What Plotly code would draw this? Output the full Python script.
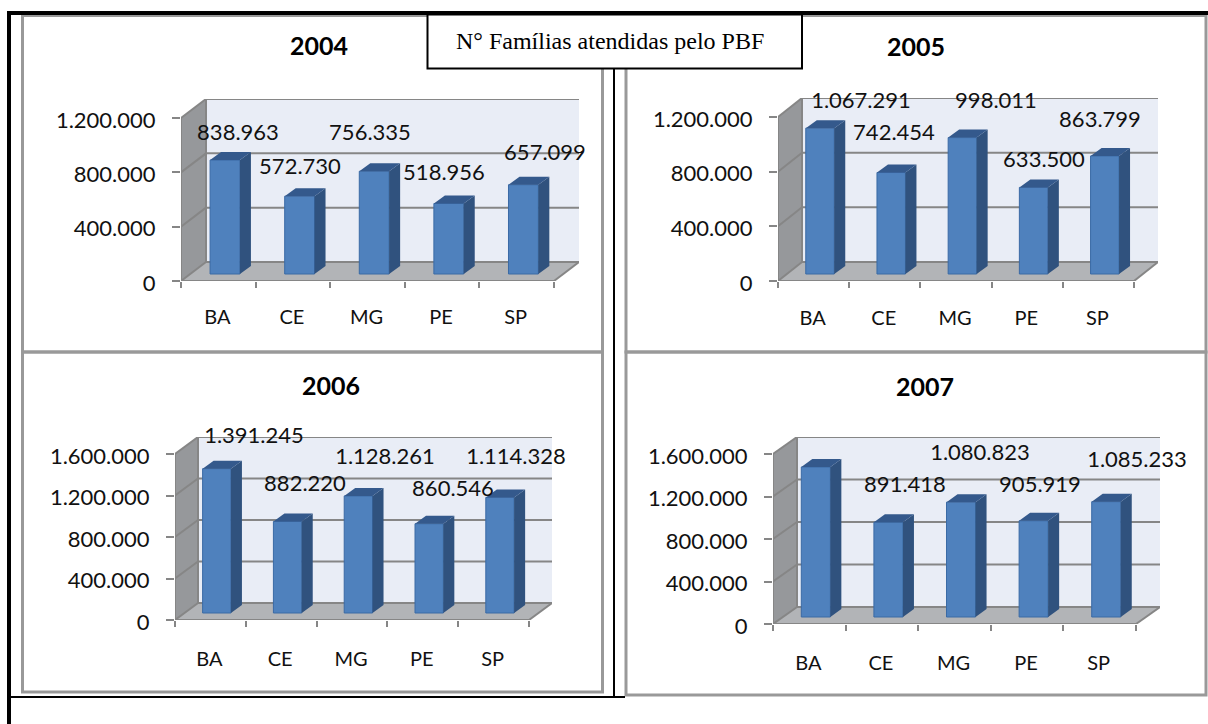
import plotly.graph_objects as go

W, H = 1208, 724

states = ["BA", "CE", "MG", "PE", "SP"]
years = ["2004", "2005", "2006", "2007"]
values_2004 = [838963, 572730, 756335, 518956, 657099]
values_2005 = [1067291, 742454, 998011, 633500, 863799]
values_2006 = [1391245, 882220, 1128261, 860546, 1114328]
values_2007 = [1411662, 891418, 1080823, 905919, 1085233]
ticks_a = [0, 400000, 800000, 1200000]
ticks_b = [0, 400000, 800000, 1200000, 1600000]
box_text = "N° Famílias atendidas pelo PBF"

# layout of each panel, in pixels: front axis x0,x1, y of zero, y of top tick, depth
panels = [
    dict(year=years[0], vals=values_2004, ticks=ticks_a, x0=181, x1=554, y0=281, yt=118, dx=25, dy=19,
         title=(319, 45), lab=[(238, 134), (300, 168), (370, 134), (444, 174), (545, 154)], caty=317),
    dict(year=years[1], vals=values_2005, ticks=ticks_a, x0=778, x1=1134, y0=281, yt=117, dx=24, dy=19,
         title=(916, 46), lab=[(861, 102), (894, 134), (996, 102), (1044, 161), (1100, 121)], caty=318),
    dict(year=years[2], vals=values_2006, ticks=ticks_b, x0=175, x1=529, y0=620, yt=454, dx=23, dy=17,
         title=(331, 385), lab=[(254, 437), (305, 485), (385, 458), (453, 490), (516, 458)], caty=659),
    dict(year=years[3], vals=values_2007, ticks=ticks_b, x0=773, x1=1136, y0=624, yt=454, dx=24, dy=17,
         title=(925, 386), lab=[(864, 434), (905, 486), (980, 454), (1040, 486), (1137, 461)], caty=663),
]

WALL_SIDE = "#96989b"
WALL_BACK = "#e9edf6"
FLOOR = "#b2b4b7"
GRID = "#868686"
BAR = "#4f81bd"
BAR_LINE = "#3a6aa5"
BAR_SIDE = "#30527e"
BAR_TOP = "#34598c"
TEXT = "#111111"
FONT = "Lato"

fig = go.Figure()
shapes, annotations = [], []


def fmt(v):
    return f"{v:,}".replace(",", ".")


def px(x):
    return x / W


def py(y):
    return 1 - y / H


def poly(points, xr, yr, fill):
    path = "M" + " L".join(f"{a},{b}" for a, b in points) + " Z"
    return dict(type="path", path=path, xref=xr, yref=yr, fillcolor=fill, line=dict(width=0), layer="below")


def seg(a, b, xr, yr, color=GRID, width=2, layer="below"):
    return dict(type="line", x0=a[0], y0=a[1], x1=b[0], y1=b[1], xref=xr, yref=yr,
                line=dict(color=color, width=width), layer=layer)


for n, p in enumerate(panels, start=1):
    xr, yr = f"x{n}", f"y{n}"
    top_tick = p["ticks"][-1]
    ux = (p["x1"] - p["x0"]) / len(states)          # px per category
    uy = (p["y0"] - p["yt"]) / top_tick             # px per value
    dxu = p["dx"] / ux
    dyu = p["dy"] / uy
    nc = len(states)

    fig.layout[f"xaxis{n}"] = dict(
        domain=[px(p["x0"]), px(p["x1"] + p["dx"])], range=[0, nc + dxu], anchor=yr, automargin=False,
        showgrid=False, zeroline=False, showline=False,
        tickmode="array", tickvals=[i + 0.5 for i in range(nc)], ticktext=states, ticks="",
        ticklabelstandoff=int(p["caty"] - p["y0"] - 14), ticklabelshift=-1,
        tickfont=dict(family=FONT, size=20, color=TEXT),
        minor=dict(tickmode="array", tickvals=list(range(nc + 1)), ticks="outside", ticklen=6,
                   tickcolor=GRID, tickwidth=2, showgrid=False),
    )
    fig.layout[f"yaxis{n}"] = dict(
        domain=[py(p["y0"]), py(p["yt"] - p["dy"])], range=[0, top_tick + dyu], anchor=xr, automargin=False,
        showgrid=False, zeroline=False, showline=False,
        tickmode="array", tickvals=p["ticks"], ticktext=[fmt(t) for t in p["ticks"]],
        ticks="outside", ticklen=8, tickcolor=GRID, tickwidth=2, ticklabelstandoff=12, ticklabelshift=2,
        tickfont=dict(family=FONT, size=22, color=TEXT),
    )

    # walls and floor follow the value scale
    shapes.append(poly([(dxu, dyu), (nc + dxu, dyu), (nc + dxu, top_tick + dyu), (dxu, top_tick + dyu)], xr, yr, WALL_BACK))
    shapes.append(poly([(0, 0), (dxu, dyu), (dxu, top_tick + dyu), (0, top_tick)], xr, yr, WALL_SIDE))
    shapes.append(poly([(0, 0), (nc, 0), (nc + dxu, dyu), (dxu, dyu)], xr, yr, FLOOR))
    for t in p["ticks"]:
        if t > 0:
            shapes.append(seg((dxu, t + dyu), (nc + dxu, t + dyu), xr, yr))
        shapes.append(seg((0, t), (dxu, t + dyu), xr, yr))
    shapes.append(seg((dxu, dyu), (nc + dxu, dyu), xr, yr))
    shapes.append(seg((nc, 0), (nc + dxu, dyu), xr, yr))
    shapes.append(seg((dxu, dyu), (dxu, top_tick + dyu), xr, yr))
    shapes.append(seg((0, 0), (nc, 0), xr, yr))
    shapes.append(seg((0, 0), (0, top_tick), xr, yr))

    # bars
    left, width = 0.39, 0.40
    bx, by = 11 / ux, 8 / uy              # depth of a bar
    base = 7 / uy                         # lift of the front face above the floor edge
    xs = [i + left + width / 2 for i in range(nc)]
    fig.add_trace(go.Bar(x=xs, y=p["vals"], base=[base] * nc, width=width,
                         marker=dict(color=BAR, line=dict(color=BAR_LINE, width=1)),
                         xaxis=xr, yaxis=yr, showlegend=False, hoverinfo="skip"))
    sx, sy, tx, ty = [], [], [], []
    for i, v in enumerate(p["vals"]):
        l, r = i + left, i + left + width
        b, t = base, base + v
        sx += [r, r + bx, r + bx, r, r, None]
        sy += [b, b + by, t + by, t, b, None]
        tx += [l, r, r + bx, l + bx, l, None]
        ty += [t, t, t + by, t + by, t, None]
    for ax, ay, c in ((sx, sy, BAR_SIDE), (tx, ty, BAR_TOP)):
        fig.add_trace(go.Scatter(x=ax, y=ay, mode="lines", fill="toself", fillcolor=c, line=dict(width=0, color=c),
                                 xaxis=xr, yaxis=yr, showlegend=False, hoverinfo="skip"))

    # data labels
    fig.add_trace(go.Scatter(
        x=[(q[0] - p["x0"]) / ux for q in p["lab"]],
        y=[(p["y0"] - q[1]) / uy for q in p["lab"]],
        text=[fmt(v) for v in p["vals"]], mode="text", textposition="middle center",
        textfont=dict(family=FONT, size=22, color=TEXT), cliponaxis=False,
        xaxis=xr, yaxis=yr, showlegend=False, hoverinfo="skip"))

    annotations.append(dict(text=f"<b>{p['year']}</b>", x=px(p["title"][0]), y=py(p["title"][1]),
                            xref="paper", yref="paper", showarrow=False, xanchor="center", yanchor="middle",
                            font=dict(family=FONT, size=25, color="#000000")))


def rect(x0, y0, x1, y1, fill=None, color=None, width=0, layer="above"):
    return dict(type="rect", xref="paper", yref="paper", x0=px(x0), x1=px(x1), y0=py(y0), y1=py(y1),
                fillcolor=fill if fill else "rgba(0,0,0,0)", line=dict(color=color or "rgba(0,0,0,0)", width=width), layer=layer)


# panel frames
gray = "#999999"
shapes += [
    rect(22.5, 15.5, 602.5, 352, color=gray, width=3),
    rect(22.5, 352, 602.5, 692, color=gray, width=3),
    rect(626, 15.5, 1206, 352, color=gray, width=3),
    rect(626, 352, 1206, 695, color=gray, width=3),
    # black rules of the surrounding table
    rect(7, 11, W, 15, fill="#000000"),
    rect(7, 11, 11, H, fill="#000000"),
    rect(613, 68, 615, 698, fill="#000000"),
    rect(10, 696, 625, 698, fill="#000000"),
    # caption box
    rect(427.5, 14.5, 802, 68.5, fill="#ffffff", color="#000000", width=2),
]
annotations.append(dict(text=box_text, x=px(610), y=py(41), xref="paper", yref="paper", showarrow=False,
                        xanchor="center", yanchor="middle",
                        font=dict(family="Liberation Serif", size=24, color="#000000")))

fig.update_layout(width=W, height=H, margin=dict(l=0, r=0, t=0, b=0), paper_bgcolor="#ffffff", plot_bgcolor="rgba(0,0,0,0)",
                  barmode="overlay", showlegend=False, shapes=shapes, annotations=annotations)

fig.write_html("out.html", config={"displayModeBar": False},
               post_script="document.body.style.margin='0';document.body.style.overflow='hidden';")
